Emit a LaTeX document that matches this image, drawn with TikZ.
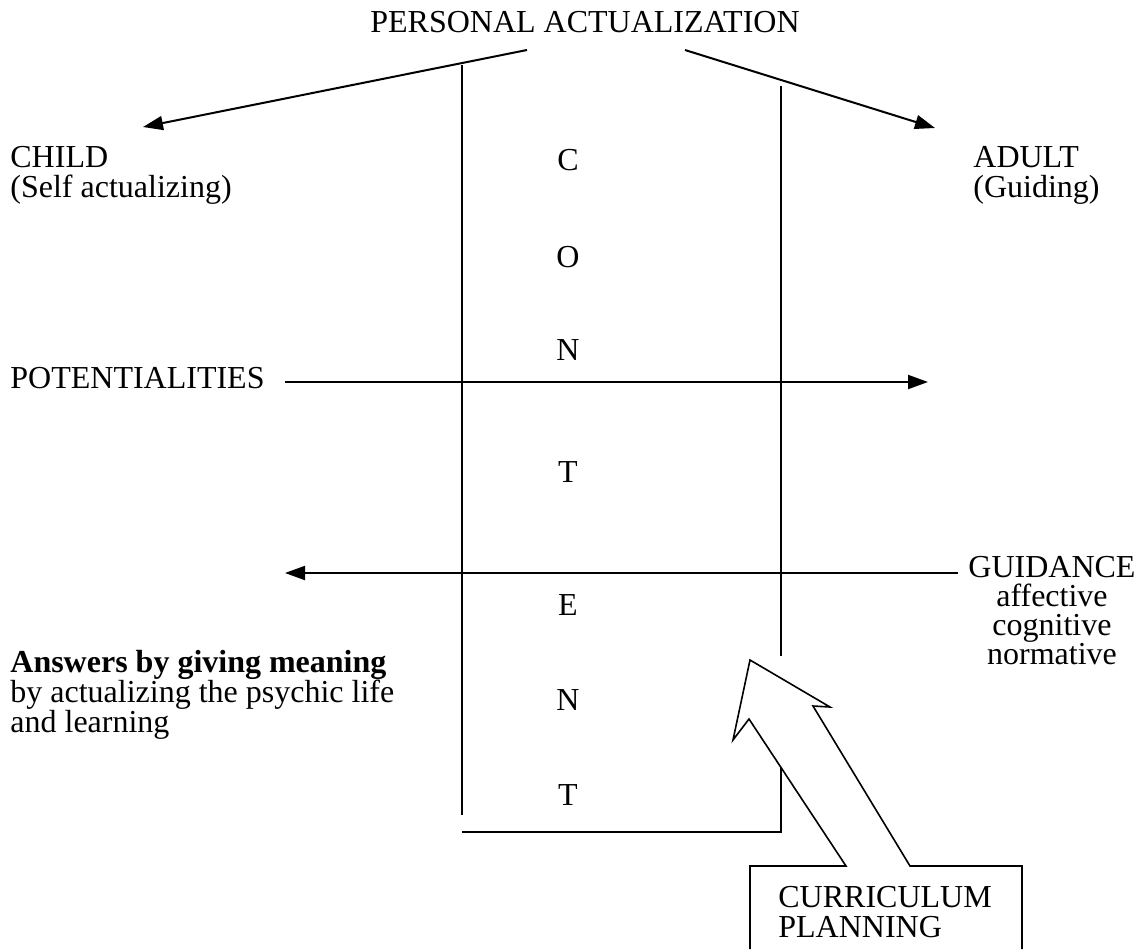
\documentclass[tikz,border=0pt]{standalone}
\usepackage{fontspec}
\setmainfont{Liberation Serif}
\usetikzlibrary{arrows.meta}

\begin{document}
\begin{tikzpicture}[x=0.5pt, y=-0.5pt, font=\fontsize{16}{15}\selectfont,
  lbl/.style={anchor=base west, inner sep=0pt, align=left},
  letter/.style={anchor=base, inner sep=0pt},
  arr/.style={-{Triangle[length=10pt,width=7pt]}, line width=1pt},
  wall/.style={line width=1pt}]
\useasboundingbox (0,0) rectangle (1142,949);
% heading and the two sides (base = last line)
\node[letter] (pa) at (585,32) {PERSONAL ACTUALIZATION};
\node[lbl] (child) at (10,197) {CHILD\\(Self actualizing)};
\node[lbl] (adult) at (973,197) {ADULT\\(Guiding)};
\coordinate (pa-l) at (527,50);  \coordinate (child-tip) at (143,127);
\coordinate (pa-r) at (685,50);  \coordinate (adult-tip) at (935,128);
\draw[arr] (pa-l) -- (child-tip);
\draw[arr] (pa-r) -- (adult-tip);
% content column
\draw[wall] (462,65) -- (462,815);
\draw[wall] (781,86) -- (781,656);
\draw[wall] (781,768) -- (781,832) -- (462,832);
\foreach \l/\y [count=\i] in {C/170,O/267,N/360,T/482,E/615,N/710,T/805} {\node[letter] (let\i) at (568,\y) {\l};}
% potentialities and guidance
\node[lbl] (pot) at (10,388) {POTENTIALITIES};
\coordinate (pot-s) at (285,382);  \coordinate (pot-e) at (928,382);
\draw[arr] (pot-s) -- (pot-e);
\node[letter, align=center, font=\fontsize{16}{14.5}\selectfont] (guid) at (1052,664) {GUIDANCE\\affective\\cognitive\\normative};
\coordinate (guid-s) at (958,573);  \coordinate (guid-e) at (285,573);
\draw[arr] (guid-s) -- (guid-e);
\node[lbl] (ans) at (10,732) {\textbf{Answers by giving meaning}\\by actualizing the psychic life\\and learning};
% curriculum planning box with hollow arrow
\node[lbl] (cur) at (778,937) {CURRICULUM\\PLANNING};
\draw[line width=0.8pt] (750,949) -- (750,866) -- (846,866) -- (749,719) -- (733,740) -- (750,660)
  -- (830,707) -- (813,706) -- (910,866) -- (1022,866) -- (1022,949);
\end{tikzpicture}
\end{document}
